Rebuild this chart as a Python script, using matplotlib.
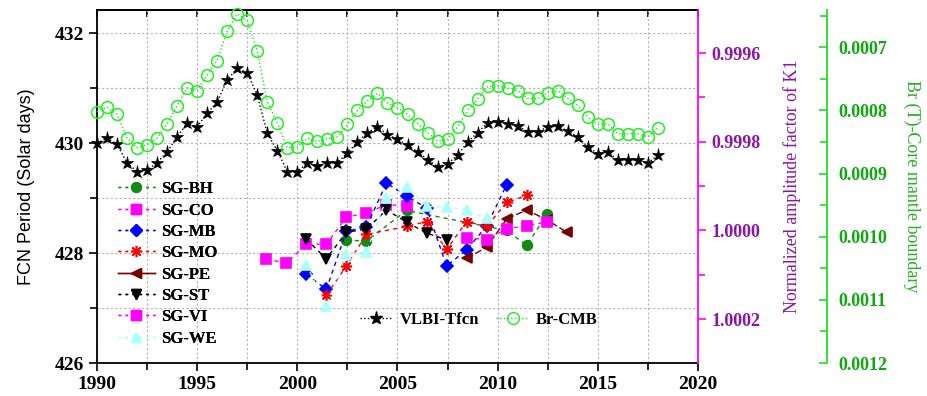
import matplotlib
matplotlib.use("Agg")
import matplotlib.pyplot as plt
from matplotlib.lines import Line2D
from matplotlib.ticker import MultipleLocator

# ---- data -------------------------------------------------------------
# VLBI FCN period (solar days), half-year sampling
vlbi_years = [1990.0, 1990.5, 1991.0, 1991.5, 1992.0, 1992.5, 1993.0, 1993.5,
              1994.0, 1994.5, 1995.0, 1995.5, 1996.0, 1996.5, 1997.0, 1997.5,
              1998.0, 1998.5, 1999.0, 1999.5, 2000.0, 2000.5, 2001.0, 2001.5,
              2002.0, 2002.5, 2003.0, 2003.5, 2004.0, 2004.5, 2005.0, 2005.5,
              2006.0, 2006.5, 2007.0, 2007.5, 2008.0, 2008.5, 2009.0, 2009.5,
              2010.0, 2010.5, 2011.0, 2011.5, 2012.0, 2012.5, 2013.0, 2013.5,
              2014.0, 2014.5, 2015.0, 2015.5, 2016.0, 2016.5, 2017.0, 2017.5,
              2018.0]
vlbi_period = [430.00, 430.09, 429.98, 429.64, 429.48, 429.51, 429.64, 429.84,
               430.11, 430.36, 430.30, 430.54, 430.75, 431.15, 431.36, 431.28,
               430.87, 430.18, 429.86, 429.48, 429.48, 429.64, 429.58, 429.64,
               429.64, 429.82, 430.02, 430.19, 430.30, 430.15, 430.07, 429.96,
               429.84, 429.70, 429.57, 429.62, 429.78, 430.02, 430.19, 430.37,
               430.39, 430.35, 430.31, 430.21, 430.21, 430.29, 430.31, 430.22,
               430.11, 429.93, 429.81, 429.84, 429.69, 429.69, 429.69, 429.64,
               429.78]

# Br at the core-mantle boundary (T), same epochs
br_cmb = [0.000802, 0.000795, 0.000806, 0.000844, 0.000859, 0.000854, 0.000844, 0.000821,
          0.000793, 0.000764, 0.000769, 0.000744, 0.000721, 0.000674, 0.000647, 0.000657,
          0.000706, 0.000786, 0.000820, 0.000859, 0.000858, 0.000844, 0.000849, 0.000845,
          0.000842, 0.000822, 0.000800, 0.000785, 0.000773, 0.000788, 0.000796, 0.000806,
          0.000821, 0.000835, 0.000849, 0.000846, 0.000826, 0.000800, 0.000782, 0.000762,
          0.000761, 0.000764, 0.000769, 0.000781, 0.000781, 0.000772, 0.000769, 0.000781,
          0.000792, 0.000811, 0.000822, 0.000821, 0.000837, 0.000837, 0.000837, 0.000842,
          0.000828]

# SG normalized amplitude factors of K1
bh_years = [2002.45, 2003.45, 2005.45, 2010.45, 2011.45, 2012.45]
bh_vals = [1.000022, 1.000024, 0.999955, 1.000000, 1.000034, 0.999964]

co_years = [1998.45, 1999.45, 2000.45, 2001.45, 2002.45, 2003.45, 2004.45, 2005.45]
co_vals = [1.000064, 1.000074, 1.000031, 1.000031, 0.999970, 0.999961, 0.999942, 0.999944]

mb_years = [2000.45, 2001.45, 2002.45, 2003.45, 2004.45, 2005.45, 2006.45, 2007.45,
            2008.45, 2009.45, 2010.45]
mb_vals = [1.000099, 1.000133, 1.000002, 0.999992, 0.999893, 0.999923, 0.999949, 1.000080,
           1.000044, 0.999990, 0.999897]

mo_years = [2001.45, 2002.45, 2003.45, 2005.45, 2006.45, 2007.45, 2008.45, 2009.45,
            2010.45, 2011.45]
mo_vals = [1.000146, 1.000080, 1.000009, 0.999991, 0.999980, 1.000043, 0.999980, 0.999991,
           0.999937, 0.999921]

pe_years = [2008.45, 2009.45, 2010.45, 2011.45, 2012.45, 2013.45]
pe_vals = [1.000063, 1.000038, 0.999974, 0.999954, 0.999976, 1.000004]

st_years = [2000.45, 2001.45, 2002.45, 2003.45, 2004.45, 2005.45, 2006.45, 2007.45]
st_vals = [1.000020, 1.000064, 1.000004, 0.999997, 0.999954, 0.999981, 1.000006, 1.000021]

vi_years = [2008.45, 2009.45, 2010.45, 2011.45, 2012.45]
vi_vals = [1.000016, 1.000021, 0.999997, 0.999989, 0.999981]

we_years = [2000.45, 2001.45, 2002.45, 2003.45, 2004.45, 2005.45, 2006.45, 2007.45,
            2008.45, 2009.45]
we_vals = [1.000077, 1.000171, 1.000053, 1.000049, 0.999928, 0.999901, 0.999946, 0.999947,
           0.999954, 0.999973]

# ---- styling ----------------------------------------------------------
serif = ["Liberation Serif", "DejaVu Serif"]
plt.rcParams["font.family"] = serif
plt.rcParams["font.weight"] = "bold"

MAG = "#ff00ff"
MAG_TXT = "#8c14a8"
GRN = "#22dd22"
GRN_TXT = "#10a810"

fig = plt.figure(figsize=(9.27, 3.96), dpi=100)
ax = fig.add_axes([0.1046, 0.0833, 0.6484, 0.8914])

# ---- left axis: VLBI --------------------------------------------------
ax.plot(vlbi_years, vlbi_period, ls=":", lw=1.0, color="black", marker="*",
        markersize=9.5, markeredgewidth=0.5, clip_on=False, zorder=3)
ax.set_xlim(1990, 2020)
ax.set_ylim(426, 432.42)
ax.xaxis.set_major_locator(MultipleLocator(5))
ax.xaxis.set_minor_locator(MultipleLocator(2.5))
ax.yaxis.set_major_locator(MultipleLocator(2))
ax.yaxis.set_minor_locator(MultipleLocator(1))
ax.grid(which="both", ls=(0, (2, 2)), color="#b4b4b4", lw=0.8)
ax.tick_params(which="both", direction="out", width=1.2, labelsize=14)
ax.tick_params(which="major", length=6)
ax.tick_params(which="minor", length=5)
ax.spines["right"].set_visible(False)
for s in ("left", "bottom", "top"):
    ax.spines[s].set_linewidth(1.3)
ax.set_ylabel("FCN Period (Solar days)", family=["Liberation Sans"], fontweight="normal",
              fontsize=13, labelpad=14)

top = ax.secondary_xaxis("top")
top.xaxis.set_major_locator(MultipleLocator(2.5))
top.tick_params(direction="in", length=5, width=1.2, labeltop=False)
top.spines["top"].set_linewidth(1.3)

# ---- magenta axis: SG amplitude factors --------------------------------
axm = ax.twinx()
axm.set_ylim(1.000299, 0.999503)
axm.yaxis.set_major_locator(MultipleLocator(0.0002))
axm.yaxis.set_minor_locator(MultipleLocator(0.0001))
axm.yaxis.set_major_formatter(matplotlib.ticker.FormatStrFormatter("%.4f"))
axm.tick_params(which="both", direction="out", color=MAG, labelcolor=MAG_TXT,
                width=1.2, labelsize=13)
axm.tick_params(which="major", length=6)
axm.tick_params(which="minor", length=5)
axm.spines["right"].set_color(MAG)
axm.spines["right"].set_linewidth(1.3)
for s in ("left", "top", "bottom"):
    axm.spines[s].set_visible(False)
axm.set_ylabel("Normalized amplitude factor of K1", color=MAG_TXT, fontweight="normal",
               fontsize=13, labelpad=16)

dash = (0, (3, 3))
sg = [
    ("SG-BH", bh_years, bh_vals, "#138a13", "o", dash),
    ("SG-CO", co_years, co_vals, MAG, "s", dash),
    ("SG-MB", mb_years, mb_vals, "#0000ff", "D", dash),
    ("SG-MO", mo_years, mo_vals, "#ff0000", (8, 2, 0), dash),
    ("SG-PE", pe_years, pe_vals, "#7a0000", "<", (0, (5, 2))),
    ("SG-ST", st_years, st_vals, "black", "v", dash),
    ("SG-VI", vi_years, vi_vals, MAG, "s", dash),
    ("SG-WE", we_years, we_vals, "#aaffff", "^", dash),
]
handles1 = []
for name, xs, ys, col, mk, ls in sg:
    ms = 7 if mk != (8, 2, 0) else 8
    if mk == "D":
        ms = 6.5
    axm.plot(xs, ys, ls=ls, lw=1.0, color=col, marker=mk, markersize=ms,
             markeredgecolor=col, markeredgewidth=1.2)
    leg_ls = "-" if name == "SG-PE" else (0, (2, 3))
    handles1.append(Line2D([], [], ls=leg_ls, lw=1.0, color=col, marker=mk,
                           markersize=ms, markeredgecolor=col, label=name))

# ---- green axis: Br at CMB --------------------------------------------
axg = ax.twinx()
axg.spines["right"].set_position(("axes", 1.2146))
for s in ("left", "top", "bottom"):
    axg.spines[s].set_visible(False)
axg.spines["right"].set_color(GRN)
axg.spines["right"].set_linewidth(1.3)
axg.set_ylim(0.0012, 0.000641)
axg.yaxis.set_major_locator(MultipleLocator(0.0001))
axg.yaxis.set_minor_locator(MultipleLocator(0.00005))
axg.yaxis.set_major_formatter(matplotlib.ticker.FormatStrFormatter("%.4f"))
axg.tick_params(which="both", direction="in", color=GRN, labelcolor=GRN_TXT,
                width=1.2, labelsize=13, pad=8)
axg.tick_params(which="major", length=6)
axg.tick_params(which="minor", length=5)
axg.plot(vlbi_years, br_cmb, ls=":", lw=1.0, color=GRN, marker="o", markersize=8.5,
         markerfacecolor="none", markeredgecolor="#22ee22", markeredgewidth=1.1,
         clip_on=False)
axg.set_ylabel("Br (T)-Core mantle boundary", color="#28b028", fontweight="normal",
               fontsize=13, rotation=270, labelpad=24)

# ---- legends ----------------------------------------------------------
leg1 = axm.legend(handles=handles1, loc="upper left", bbox_to_anchor=(0.035, 0.515),
                  frameon=False, fontsize=12, handlelength=2.2, handletextpad=0.4,
                  labelspacing=0.32, borderaxespad=0, borderpad=0)
axm.add_artist(leg1)

handles2 = [
    Line2D([], [], ls=":", lw=1.0, color="black", marker="*", markersize=9.5,
           label="VLBI-Tfcn"),
    Line2D([], [], ls=":", lw=1.0, color=GRN, marker="o", markersize=8.5,
           markerfacecolor="none", markeredgecolor="#22ee22", label="Br-CMB"),
]
axg.legend(handles=handles2, loc="center", bbox_to_anchor=(0.635, 0.122), ncol=2,
           frameon=False, fontsize=12, handlelength=2.0, handletextpad=0.4,
           columnspacing=1.0, borderaxespad=0, borderpad=0)

fig.savefig("out.png", dpi=100)
